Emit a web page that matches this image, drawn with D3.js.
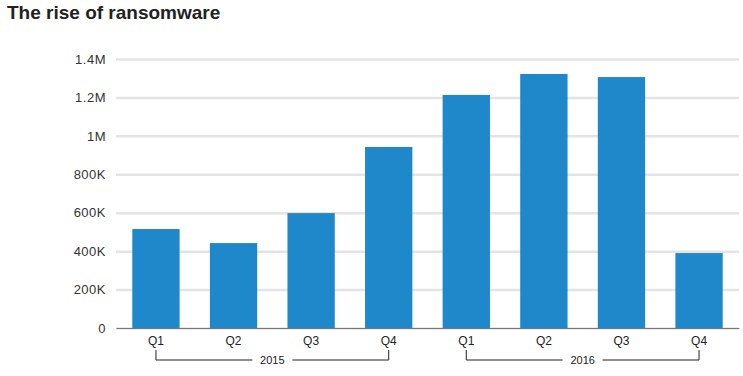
<!DOCTYPE html>
<html>
<head>
<meta charset="utf-8">
<script src="https://cdn.jsdelivr.net/npm/d3@7"></script>
<style>
  body { margin: 0; background: #fff; }
  svg { display: block; font-family: "Liberation Sans", Arial, sans-serif; }
</style>
</head>
<body>
<div id="chart"></div>
<script>
// chart data
var years = ['2015', '2016'];
var quarters = ['Q1', 'Q2', 'Q3', 'Q4'];
var values = [515000, 442000, 598000, 942000, 1213000, 1322000, 1306000, 390000];
var yTicks = [0, 200000, 400000, 600000, 800000, 1000000, 1200000, 1400000];
var yTickLabels = ['0', '200K', '400K', '600K', '800K', '1M', '1.2M', '1.4M'];

var svgWidth = 743;
var svgHeight = 376;

var margin = { top: 59, right: 4, bottom: 48, left: 116 };
var chartWidth = svgWidth - margin.left - margin.right;
var chartHeight = svgHeight - margin.top - margin.bottom;

var svg = d3.select('#chart')
    .append('svg')
    .attr('width', svgWidth)
    .attr('height', svgHeight);

// title
svg.append('text')
    .attr('x', 7)
    .attr('y', 19)
    .attr('font-size', 19)
    .attr('font-weight', 'bold')
    .attr('fill', '#222')
    .text('The rise of ransomware');

var chartGroup = svg.append('g')
    .attr('transform', `translate(${margin.left}, ${margin.top})`);

// one band per quarter
var keys = [];
years.forEach(function (y) {
    quarters.forEach(function (q) { keys.push(y + ' ' + q); });
});

var data = keys.map(function (k, i) {
    return { key: k, year: k.split(' ')[0], quarter: k.split(' ')[1], value: values[i] };
});

var xScale = d3.scaleBand()
    .domain(keys)
    .range([0, chartWidth])
    .paddingInner(0.39)
    .paddingOuter(0.21);

var yScale = d3.scaleLinear()
    .domain([0, 1400000])
    .range([chartHeight, 0]);

// gridlines + y labels
var leftAxis = d3.axisLeft(yScale)
    .tickValues(yTicks)
    .tickFormat(function (d, i) { return yTickLabels[i]; })
    .tickSize(-chartWidth)
    .tickPadding(10);

var yAxisG = chartGroup.append('g').call(leftAxis);
yAxisG.select('.domain').remove();
yAxisG.selectAll('.tick line')
    .attr('stroke', '#e4e4e4')
    .attr('stroke-width', 2.5);
yAxisG.selectAll('.tick text')
    .attr('font-size', 13)
    .attr('letter-spacing', 0.5)
    .attr('fill', '#333');

// bars
chartGroup.selectAll('rect.bar')
    .data(data)
    .enter()
    .append('rect')
    .attr('class', 'bar')
    .attr('x', function (d) { return xScale(d.key); })
    .attr('y', function (d) { return yScale(d.value); })
    .attr('width', xScale.bandwidth())
    .attr('height', function (d) { return chartHeight - yScale(d.value); })
    .attr('fill', '#1f88cb');

// x axis
var bottomAxis = d3.axisBottom(xScale)
    .tickSize(0)
    .tickPadding(8)
    .tickFormat(function (d) { return d.split(' ')[1]; });

var xAxisG = chartGroup.append('g')
    .attr('transform', `translate(0, ${chartHeight})`)
    .call(bottomAxis);
xAxisG.select('.domain')
    .attr('stroke', '#777')
    .attr('stroke-width', 1);
xAxisG.selectAll('.tick text')
    .attr('font-size', 12)
    .attr('fill', '#222');

// year brackets
var bracketTop = chartHeight + 22;
var bracketY = chartHeight + 32;
years.forEach(function (y) {
    var x1 = xScale(y + ' Q1') + xScale.bandwidth() / 2;
    var x2 = xScale(y + ' Q4') + xScale.bandwidth() / 2;
    var mid = (x1 + x2) / 2;
    var gap = 20;
    var g = chartGroup.append('g');
    g.append('path')
        .attr('d', `M${x1},${bracketTop}V${bracketY}H${mid - gap}`)
        .attr('fill', 'none')
        .attr('stroke', '#222')
        .attr('stroke-width', 1);
    g.append('path')
        .attr('d', `M${mid + gap},${bracketY}H${x2}V${bracketTop}`)
        .attr('fill', 'none')
        .attr('stroke', '#222')
        .attr('stroke-width', 1);
    g.append('text')
        .attr('x', mid)
        .attr('y', bracketY)
        .attr('dy', '0.35em')
        .attr('text-anchor', 'middle')
        .attr('font-size', 11)
        .attr('fill', '#222')
        .text(y);
});
</script>
</body>
</html>
